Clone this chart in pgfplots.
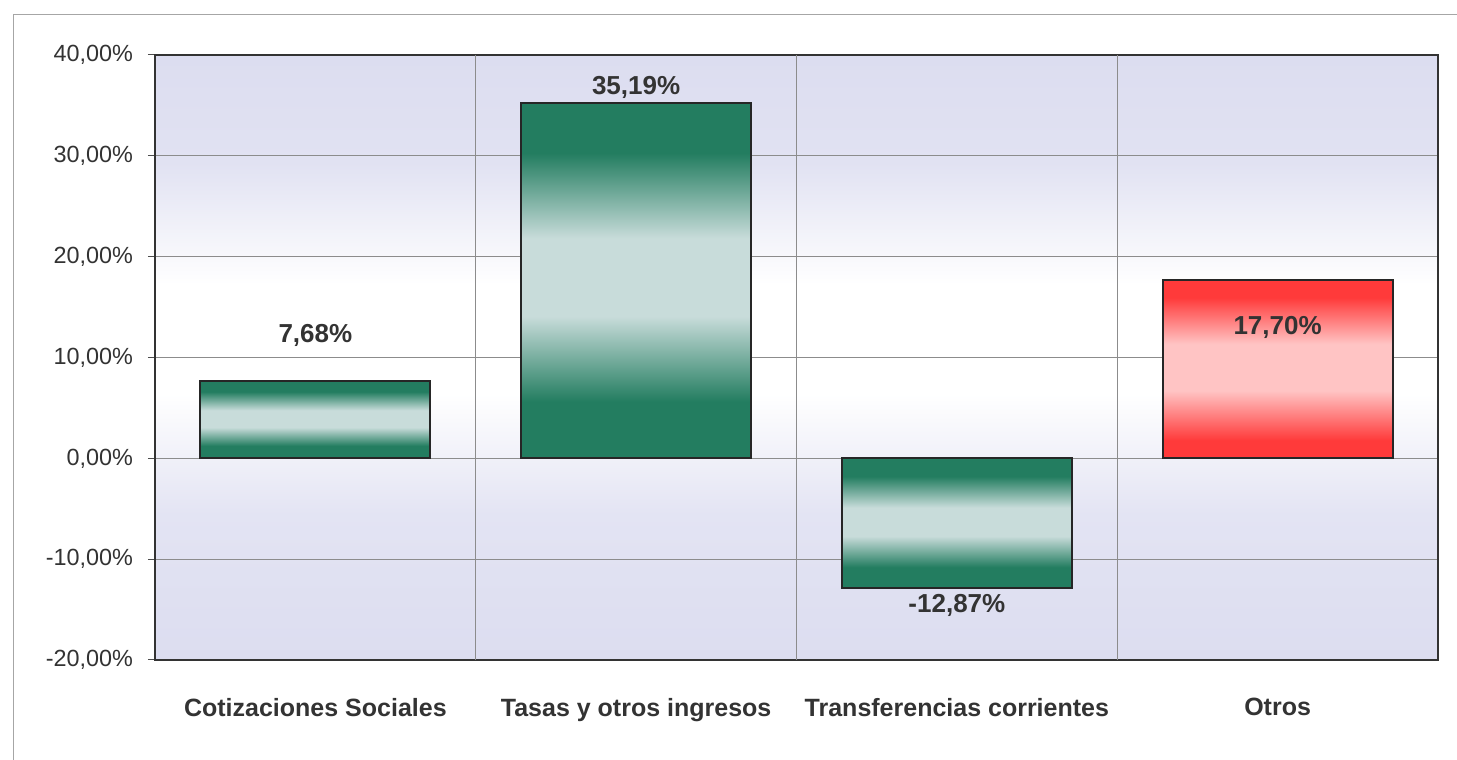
\documentclass[border=0pt]{standalone}
\usepackage{pgfplots}
\pgfplotsset{compat=1.18}
\usepackage{fontspec}
\setmainfont{Liberation Sans}
\definecolor{lav}{HTML}{DCDDF0}
\definecolor{gdark}{HTML}{237D60}
\definecolor{glight}{HTML}{C8DCDA}
\definecolor{rdark}{HTML}{FF3A3A}
\definecolor{rlight}{HTML}{FFC4C4}
\definecolor{txt}{HTML}{333333}
\pgfdeclareverticalshading{gbar}{100bp}{color(0bp)=(gdark); color(33bp)=(gdark); color(45bp)=(glight); color(56bp)=(glight); color(68bp)=(gdark); color(100bp)=(gdark)}
\pgfdeclareverticalshading{rbar}{100bp}{color(0bp)=(rdark); color(30bp)=(rdark); color(44bp)=(rlight); color(57bp)=(rlight); color(70bp)=(rdark); color(100bp)=(rdark)}
\pgfdeclareverticalshading{bgshade}{100bp}{color(0bp)=(lav); color(25bp)=(lav); color(37bp)=(lav!80!white); color(47bp)=(white); color(56bp)=(white); color(66bp)=(lav!85!white); color(75bp)=(lav); color(100bp)=(lav)}
\begin{document}
\begin{tikzpicture}
\useasboundingbox (0,0) rectangle (728.5pt,380pt);
\draw[gray!70, line width=0.5pt] (6.5pt,0) -- (6.5pt,372.5pt) -- (728.5pt,372.5pt);
\begin{axis}[
  at={(77.5pt,50pt)}, anchor=south west,
  scale only axis, width=641.5pt, height=302.5pt,
  xmin=-0.5, xmax=3.5, ymin=-20, ymax=40,
  axis background/.style={shade, shading=bgshade},
  axis line style={draw=black!80, line width=1pt},
  xtick={0,1,2,3},
  xticklabels={Cotizaciones Sociales, Tasas y otros ingresos, Transferencias corrientes, Otros},
  xticklabel style={font=\fontsize{12.5}{14}\selectfont\bfseries, text=txt, yshift=-12pt},
  x tick style={draw=none},
  extra x ticks={0.5,1.5,2.5},
  extra x tick labels={},
  extra x tick style={grid=major, major tick length=0pt},
  ytick={-20,-10,0,10,20,30,40},
  yticklabels={{-20,00\%},{-10,00\%},{0,00\%},{10,00\%},{20,00\%},{30,00\%},{40,00\%}},
  yticklabel style={font=\fontsize{11.7}{14}\selectfont, text=txt, xshift=-4pt},
  ytick pos=left,
  ymajorgrids=true,
  grid style={draw=black!45, line width=0.5pt},
  tick align=outside, major tick length=3.5pt,
  y tick style={draw=black!70, line width=0.5pt},
  clip=false,
  every axis plot/.append style={bar width=0.717, bar shift=0pt},
]
\addplot[ybar, draw=black!85, line width=1pt, shade, shading=gbar]
  coordinates {(0,7.68)};
\addplot[ybar, draw=black!85, line width=1pt, shade, shading=gbar]
  coordinates {(1,35.19)};
\addplot[ybar, draw=black!85, line width=1pt, shade, shading=gbar]
  coordinates {(2,-12.87)};
\addplot[ybar, draw=black!85, line width=1pt, shade, shading=rbar]
  coordinates {(3,17.70)};
\addplot[draw=none, mark=none, nodes near coords, point meta=explicit symbolic,
  nodes near coords align=center,
  every node near coord/.style={font=\fontsize{13}{15}\selectfont\bfseries, text=txt, anchor=center}]
  coordinates {(0,12.2)[7,68\%] (1,36.8)[35,19\%] (2,-14.6)[-12,87\%] (3,13.0)[17,70\%]};
\end{axis}
\end{tikzpicture}
\end{document}
